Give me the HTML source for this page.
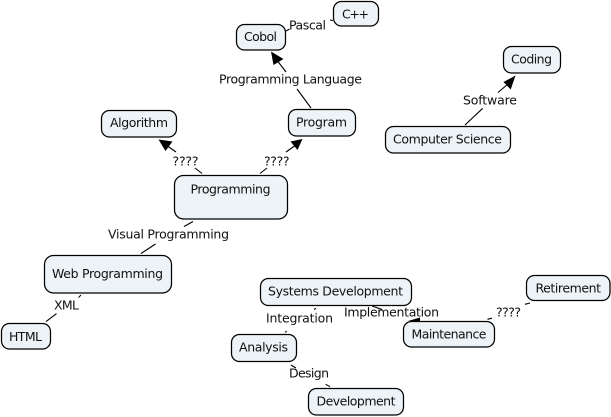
<!DOCTYPE html>
<html><head><meta charset="utf-8"><style>
html,body{margin:0;padding:0;background:#fff}
svg{display:block}
text{font-family:"DejaVu Sans",sans-serif;font-size:12.5px;fill:#111}
rect{fill:#edf3f6;stroke:#000;stroke-width:1.25}
line{stroke:#000;stroke-width:1.1}
polygon{fill:#000}
</style></head><body>
<svg width="611" height="417" viewBox="0 0 611 417" xmlns="http://www.w3.org/2000/svg">
<line x1="311" y1="108" x2="297" y2="89"/><line x1="286" y1="72" x2="276" y2="59"/>
<polygon points="271,51.5 283.5,59 273.5,65"/>
<line x1="289.5" y1="29" x2="286" y2="31"/><line x1="330" y1="20" x2="333" y2="20.5"/>
<line x1="176" y1="152" x2="166" y2="145"/><polygon points="158.5,139.5 172.5,141.5 165.5,151"/>
<line x1="195" y1="168" x2="202" y2="173.5"/>
<line x1="286" y1="152" x2="296" y2="145"/><polygon points="302.5,139 290.5,141.5 297.5,150"/>
<line x1="267" y1="168" x2="260" y2="173.5"/>
<line x1="193" y1="221.5" x2="184" y2="226.5"/><line x1="155.5" y1="244" x2="141" y2="253.5"/>
<line x1="81" y1="295" x2="78.5" y2="297.5"/><line x1="56.5" y1="313.5" x2="46" y2="321.5"/>
<line x1="316" y1="308.3" x2="314" y2="309.5"/><line x1="286.7" y1="331" x2="285" y2="332.5"/>
<line x1="291" y1="365" x2="296" y2="368"/><line x1="325.7" y1="384.3" x2="330" y2="386.7"/>
<line x1="372" y1="306" x2="382" y2="309.5"/><polygon points="408,321 420,317.5 420,321"/>
<line x1="487.5" y1="319.3" x2="492" y2="318.2"/><line x1="525" y1="304.3" x2="530" y2="303"/>
<line x1="498" y1="92.5" x2="508" y2="84"/><polygon points="515.5,75.5 503.5,82 510.7,89.5"/>
<line x1="482.7" y1="108.3" x2="465" y2="125"/>

<rect x="236.5" y="24.5" width="49" height="25.5" rx="8"/>
<rect x="333.5" y="1.5" width="45" height="24.5" rx="8"/>
<rect x="288.5" y="109.5" width="67" height="26.5" rx="8"/>
<rect x="101.5" y="110.5" width="75" height="26.5" rx="8"/>
<rect x="174.5" y="175.5" width="113" height="43.5" rx="9"/>
<rect x="44.5" y="255.5" width="127" height="37.5" rx="9"/>
<rect x="1.5" y="323.5" width="49" height="25.5" rx="8"/>
<rect x="260.5" y="278.5" width="151" height="27" rx="8"/>
<rect x="231.5" y="334.5" width="65" height="27" rx="8"/>
<rect x="308.5" y="388.5" width="95" height="26.5" rx="8"/>
<rect x="403.5" y="321.5" width="91" height="25.5" rx="8"/>
<rect x="526.5" y="275.5" width="83.5" height="25" rx="8"/>
<rect x="503.5" y="46.5" width="57" height="26.5" rx="8"/>
<rect x="385.5" y="126.5" width="125" height="26.5" rx="8"/>

<text x="219" y="83.5" textLength="143">Programming Language</text>
<text x="289" y="29.5" textLength="37">Pascal</text>
<text x="342" y="18.5" textLength="27">C++</text>
<text x="244" y="41" textLength="33">Cobol</text>
<text x="296" y="126.5" textLength="51">Program</text>
<text x="110" y="127" textLength="58">Algorithm</text>
<text x="172.5" y="165.5" textLength="26">????</text>
<text x="264" y="165.5" textLength="25.5">????</text>
<text x="190.5" y="193.5" textLength="80">Programming</text>
<text x="108" y="238.5" textLength="121">Visual Programming</text>
<text x="52" y="278" textLength="111">Web Programming</text>
<text x="54" y="309.5" textLength="25">XML</text>
<text x="9" y="341" textLength="33">HTML</text>
<text x="268" y="295.5" textLength="135">Systems Development</text>
<text x="266" y="322.5" textLength="67">Integration</text>
<text x="344" y="316.5" textLength="95">Implementation</text>
<text x="239" y="351.5" textLength="49">Analysis</text>
<text x="289" y="377.5" textLength="40">Design</text>
<text x="316.5" y="405.5" textLength="79">Development</text>
<text x="411.5" y="338.5" textLength="75">Maintenance</text>
<text x="535.5" y="292.5" textLength="65.5">Retirement</text>
<text x="496" y="316.5" textLength="25">????</text>
<text x="511" y="63.5" textLength="41">Coding</text>
<text x="463" y="104.5" textLength="54">Software</text>
<text x="393" y="143.5" textLength="109">Computer Science</text>
</svg>
</body></html>
